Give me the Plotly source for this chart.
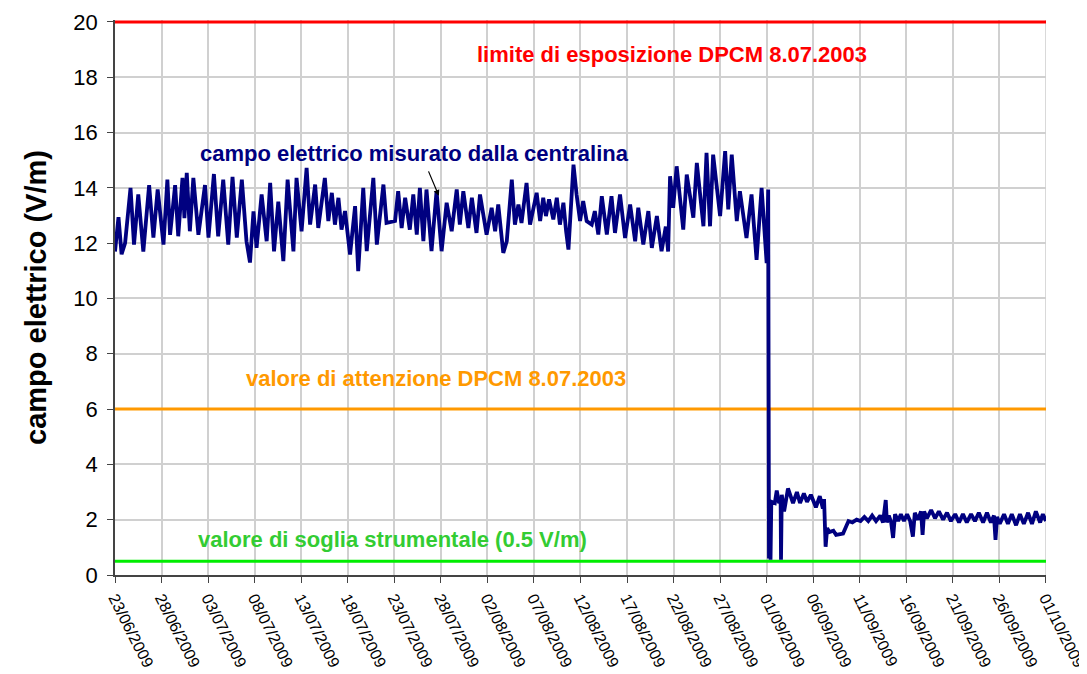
import pandas as pd
import plotly.graph_objects as go

# ---------------- data ----------------
start_date = "2009-06-23"
end_date = "2009-10-01"

# hours elapsed since 23/06/2009 00:00 and measured electric field (V/m)
hours = [
    0, 9, 17, 26, 40, 49, 60, 73, 88, 99, 110, 125, 135, 142, 155, 163, 174, 179, 185, 193,
    202, 215, 232, 241, 255, 266, 279, 292, 303, 314, 327, 339, 348, 357, 365, 378, 391, 400,
    410, 421, 434, 445, 460, 468,
    481, 494, 503, 516, 524, 541, 550, 559, 567, 576, 584, 593, 606, 619, 627, 640, 649, 666,
    675, 692, 700, 722, 730, 739, 748, 760, 769, 778, 786, 795, 803, 816, 829, 842, 855, 868,
    881, 889, 898, 911, 920, 932, 941,
    958, 971, 980, 988, 1001, 1010, 1023, 1031, 1040, 1048, 1061, 1070, 1087, 1096, 1104, 1111,
    1119, 1130, 1139, 1147, 1156, 1163, 1169, 1175, 1182, 1190, 1199, 1207, 1216, 1229, 1237,
    1246, 1255, 1268, 1280, 1289, 1302, 1315, 1328, 1341, 1349, 1362, 1375, 1384, 1397, 1409,
    1420, 1426,
    1431, 1439, 1448, 1465, 1474, 1491, 1500, 1517, 1525, 1534, 1542, 1560, 1573, 1581, 1590,
    1603, 1611, 1628, 1641, 1654, 1667, 1680, 1684,
    1686, 1688, 1690, 1692, 1701, 1706, 1712, 1716, 1717, 1719, 1725, 1735, 1748, 1758, 1766,
    1776, 1784, 1794, 1807, 1817, 1825, 1828, 1832, 1836, 1841, 1852, 1859, 1877, 1891, 1901,
    1912, 1922, 1932, 1942, 1952, 1962, 1973, 1980, 1987, 1990, 1995, 2001, 2006, 2011, 2019,
    2026, 2034, 2042, 2050, 2057, 2062, 2070, 2078, 2082, 2086, 2093, 2104, 2114, 2124, 2135,
    2145, 2155, 2166, 2176, 2186, 2196, 2207, 2217, 2227, 2238, 2248, 2258, 2266, 2270, 2274,
    2281, 2292, 2302, 2312, 2323, 2333, 2343, 2354, 2364, 2374, 2385, 2392, 2400,
]
field = [
    11.7, 12.94, 11.6, 12.0, 14.0, 11.95, 13.76, 11.7, 14.1, 12.2, 13.94, 11.95, 14.3, 12.3, 14.1,
    12.25, 14.36, 12.9, 14.54, 12.43, 14.36, 12.3, 14.1, 12.2, 14.5, 12.25, 14.3, 11.95, 14.4,
    12.2, 14.3, 12.07, 11.3, 13.15, 11.83, 13.76, 12.07, 14.18, 11.7, 13.5, 11.35, 14.3, 11.7,
    14.36,
    12.43, 14.72, 12.67, 14.12, 12.55, 14.36, 12.8, 13.82, 12.67, 13.64, 12.49, 13.16, 11.59,
    13.34, 10.99, 14.0, 11.71, 14.36, 11.95, 14.12, 12.73, 12.8, 13.88, 12.55, 13.64, 12.49,
    13.76, 12.31, 14.0, 12.07, 13.94, 11.71, 13.88, 11.71, 13.46, 12.43, 13.94, 12.67, 13.88,
    12.55, 13.64, 12.37, 13.76,
    12.31, 13.28, 12.43, 13.4, 11.65, 12.07, 14.3, 12.67, 13.4, 12.73, 14.18, 12.67, 13.82, 12.8,
    13.64, 12.98, 13.58, 12.86, 13.64, 12.67, 13.46, 12.43, 11.77, 13.2, 14.84, 13.76, 12.8,
    13.52, 12.8, 12.67, 13.16, 12.31, 13.7, 12.31, 13.7, 12.37, 13.76, 12.19, 13.4, 12.07, 13.28,
    11.95, 13.16, 11.83, 12.98, 11.71, 12.6, 11.7,
    14.42, 13.28, 14.78, 12.49, 14.48, 12.92, 14.9, 12.61, 15.27, 12.61, 15.2, 12.98, 15.33,
    13.22, 15.2, 12.8, 13.88, 12.19, 13.76, 11.4, 14.0, 11.28, 13.94,
    0.6, 2.7, 0.55, 2.65, 2.6, 3.05, 2.6, 2.7, 0.55, 2.9, 2.3, 3.13, 2.6, 3.0, 2.6, 2.95, 2.65,
    2.9, 2.45, 2.85, 2.4, 2.75, 1.02, 1.7, 1.55, 1.6, 1.45, 1.5, 1.95, 1.9, 2.0, 1.95, 2.1, 1.95,
    2.15, 1.95, 2.15, 1.9, 2.71, 1.9, 2.15, 1.9, 1.34, 2.2, 1.95, 2.2, 1.95, 2.2, 1.95, 1.39,
    2.25, 2.0, 2.3, 1.45, 2.3, 2.05, 2.35, 2.05, 2.3, 2.0, 2.25, 1.95, 2.2, 1.9, 2.2, 1.9, 2.2,
    1.95, 2.25, 1.9, 2.25, 1.9, 2.15, 1.27, 2.1, 1.85, 2.2, 1.85, 2.2, 1.8, 2.2, 1.85, 2.25, 1.85,
    2.3, 1.9, 2.2, 1.95,
]

limit_values = [20, 6, 0.5]
limit_labels = [
    "limite di esposizione DPCM 8.07.2003",
    "valore di attenzione DPCM 8.07.2003",
    "valore di soglia strumentale (0.5 V/m)",
]
series_label = "campo elettrico misurato dalla centralina"
y_title = "campo elettrico (V/m)"

# ---------------- figure ----------------
t0 = pd.Timestamp(start_date)
x_dates = [(t0 + pd.Timedelta(hours=h)).strftime("%Y-%m-%d %H:%M") for h in hours]
tick_dates = pd.date_range(start_date, end_date, freq="5D")
tick_vals = [d.strftime("%Y-%m-%d") for d in tick_dates]
tick_text = [d.strftime("%d/%m/%Y") for d in tick_dates]
# a few minutes past the last tick so the final tick / grid line is kept by plotly
x_range_end = (pd.Timestamp(end_date) + pd.Timedelta(minutes=10)).strftime("%Y-%m-%d %H:%M")

limit_colors = ["#FF0000", "#FF9900", "#00EE00"]
text_colors = ["#FF0000", "#FF9900", "#33CC33"]
GRID = "#D0D0D0"

fig = go.Figure()
for val, col in zip(limit_values, limit_colors):
    fig.add_trace(go.Scatter(x=[start_date, x_range_end], y=[val, val], mode="lines",
                             line=dict(color=col, width=3), hoverinfo="skip", showlegend=False))

fig.add_trace(go.Scatter(x=x_dates, y=field, mode="lines",
                         line=dict(color="#000080", width=3.8), showlegend=False))

FONT = "Arial, Liberation Sans, sans-serif"
ann_pos = [("2009-08-21 19:00", 18.84), ("2009-07-27 12:00", 7.12), ("2009-07-22 19:00", 1.27)]
annotations = []
for (ax_, ay_), txt, col in zip(ann_pos, limit_labels, text_colors):
    annotations.append(dict(x=ax_, y=ay_, xref="x", yref="y", text="<b>%s</b>" % txt,
                            showarrow=False, font=dict(family=FONT, size=22, color=col)))
annotations.append(dict(x="2009-07-25 03:00", y=15.26, xref="x", yref="y",
                        text="<b>%s</b>" % series_label, showarrow=False,
                        font=dict(family=FONT, size=22, color="#000080")))
annotations.append(dict(x="2009-07-27 19:00", y=13.71, xref="x", yref="y", text="",
                        showarrow=True, ax=-11, ay=-26, arrowhead=2, arrowsize=1,
                        arrowwidth=1.2, arrowcolor="black"))

# the page body adds an 8 px offset, so the figure is sized to fit inside the window
fig.update_layout(
    width=1079, height=666,
    margin=dict(l=107, r=41, t=12, b=99),
    plot_bgcolor="white", paper_bgcolor="white",
    font=dict(family=FONT, color="black"),
    annotations=annotations,
    shapes=[dict(type="line", xref="x", yref="paper", x0=end_date, x1=end_date, y0=0, y1=1,
                 line=dict(color=GRID, width=1.5), layer="below")],
)
fig.update_xaxes(
    type="date", range=[start_date, x_range_end], automargin=False,
    tickmode="array", tickvals=tick_vals, ticktext=tick_text, tickangle=63,
    tickfont=dict(family=FONT, size=16, color="black"), ticklabeloverflow="allow",
    ticks="outside", ticklen=6, tickcolor="#444",
    showgrid=True, gridcolor=GRID, gridwidth=1.5,
    showline=True, linecolor="#444", linewidth=1.5, zeroline=False,
)
fig.update_yaxes(
    range=[0, 20.07], tickmode="linear", tick0=0, dtick=2, automargin=False,
    tickfont=dict(family=FONT, size=22, color="black"),
    ticks="outside", ticklen=6, tickcolor="#444", ticklabelstandoff=5,
    showgrid=True, gridcolor=GRID, gridwidth=1.5,
    showline=True, linecolor="#444", linewidth=1.5, zeroline=False,
    title=dict(text="<b>%s</b>" % y_title, font=dict(family=FONT, size=29, color="black"),
               standoff=18),
)

fig.write_html("out.html")
